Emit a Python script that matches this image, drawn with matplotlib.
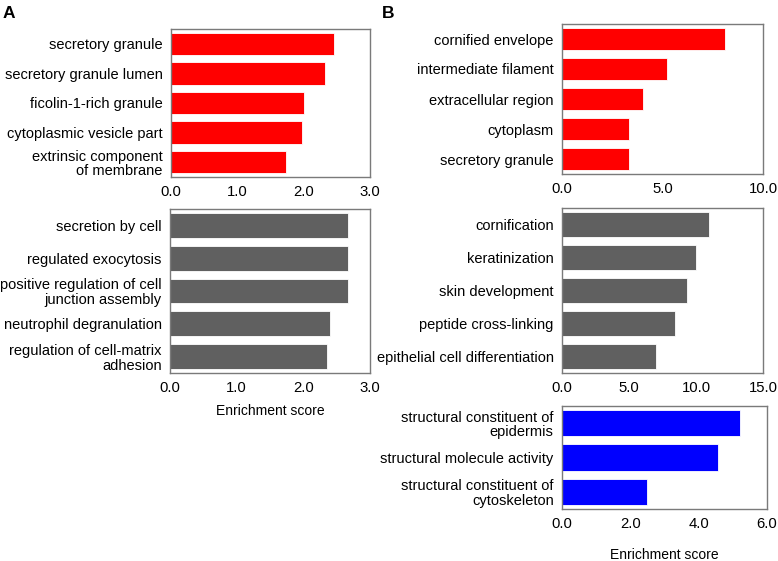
import matplotlib.pyplot as plt

plt.rcParams['font.family'] = ['Liberation Sans', 'DejaVu Sans']

# Panel A, cellular component
a_cc_terms = ['secretory granule', 'secretory granule lumen', 'ficolin-1-rich granule',
              'cytoplasmic vesicle part', 'extrinsic component\nof membrane']
a_cc_scores = [2.46, 2.32, 2.00, 1.97, 1.74]

# Panel A, biological process
a_bp_terms = ['secretion by cell', 'regulated exocytosis',
              'positive regulation of cell\njunction assembly',
              'neutrophil degranulation', 'regulation of cell-matrix\nadhesion']
a_bp_scores = [2.67, 2.67, 2.67, 2.40, 2.35]

# Panel B, cellular component
b_cc_terms = ['cornified envelope', 'intermediate filament', 'extracellular region',
              'cytoplasm', 'secretory granule']
b_cc_scores = [8.12, 5.22, 4.01, 3.31, 3.31]

# Panel B, biological process
b_bp_terms = ['cornification', 'keratinization', 'skin development',
              'peptide cross-linking', 'epithelial cell differentiation']
b_bp_scores = [11.0, 9.98, 9.36, 8.41, 6.99]

# Panel B, molecular function
b_mf_terms = ['structural constituent of\nepidermis', 'structural molecule activity',
              'structural constituent of\ncytoskeleton']
b_mf_scores = [5.22, 4.58, 2.49]

W, H = 778, 561
fig = plt.figure(figsize=(W / 100, H / 100), dpi=100)


def panel(x0, y0, x1, y1, terms, scores, color, xmax, xticks, xlabel=None, lpad=10):
    ax = fig.add_axes([x0 / W, 1 - y1 / H, (x1 - x0) / W, (y1 - y0) / H])
    pos = list(range(len(terms)))
    ax.barh(pos, scores, height=0.76, color=color, edgecolor='white', linewidth=0.6)
    ax.set_ylim(len(terms) - 0.5, -0.5)
    ax.set_xlim(0, xmax)
    ax.set_yticks(pos)
    ax.set_yticklabels(terms, fontsize=10.5, linespacing=1.05)
    ax.set_xticks(xticks)
    ax.set_xticklabels(['%.1f' % t for t in xticks], fontsize=10.7)
    ax.tick_params(length=0, pad=6)
    for s in ax.spines.values():
        s.set_color('#7a7a7a')
        s.set_linewidth(1.0)
    if xlabel:
        ax.set_xlabel(xlabel, fontsize=10, labelpad=lpad)
    return ax


panel(171, 29, 370, 177, a_cc_terms, a_cc_scores, '#ff0000', 3.0, [0, 1, 2, 3])
panel(170, 209, 370, 373, a_bp_terms, a_bp_scores, '#606060', 3.0, [0, 1, 2, 3],
      'Enrichment score', lpad=6)
panel(562, 24, 763, 174, b_cc_terms, b_cc_scores, '#ff0000', 10.0, [0, 5, 10])
panel(562, 208, 763, 373, b_bp_terms, b_bp_scores, '#606060', 15.0, [0, 5, 10, 15])
panel(562, 406, 767, 509, b_mf_terms, b_mf_scores, '#0000ff', 6.0, [0, 2, 4, 6],
      'Enrichment score', lpad=12)

fig.text(3 / W, 1 - 13 / H, 'A', fontsize=12.5, fontweight='bold', va='center')
fig.text(382 / W, 1 - 13 / H, 'B', fontsize=12.5, fontweight='bold', va='center')

fig.savefig('out.png', dpi=100)
